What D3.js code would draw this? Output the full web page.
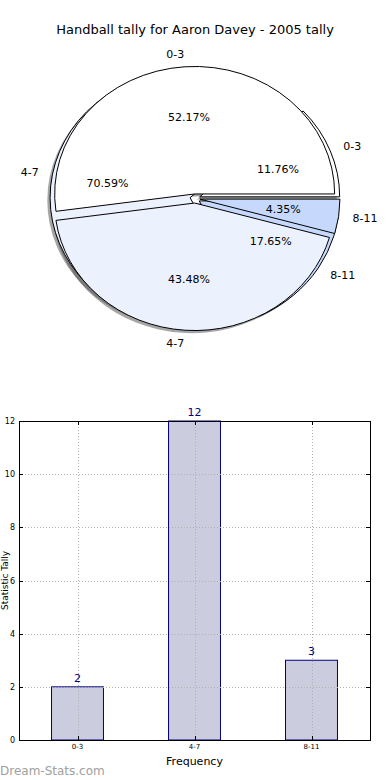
<!DOCTYPE html>
<html>
<head>
<meta charset="utf-8">
<script src="https://cdn.jsdelivr.net/npm/d3@7"></script>
<style>
  html, body { margin: 0; padding: 0; background: #ffffff; }
  svg { display: block; font-family: "DejaVu Sans", sans-serif; }
</style>
</head>
<body>
<svg id="chart" width="390" height="780"></svg>
<script>
// ---------- data ----------
const titleText = "Handball tally for Aaron Davey - 2005 tally";
const categories = ["0-3", "4-7", "8-11"];
const tallyOuter = [2, 12, 3];     // drawn first (17 total)
const tallyInner = [12, 10, 1];    // drawn on top (23 total)
const barValues = [2, 12, 3];
const yTicks = [0, 2, 4, 6, 8, 10, 12];
const sliceColors = ["#ffffff", "#ebf1fd", "#c6d9fd"];

const svg = d3.select("#chart");

// ---------- title ----------
svg.append("text")
  .attr("x", 195).attr("y", 34)
  .attr("text-anchor", "middle")
  .attr("font-size", 13)
  .attr("fill", "#000")
  .text(titleText);

// ---------- pie ----------
const cx = 195, cy = 198.5, rx = 140, ry = 127.5, k = ry / rx, explode = 5;
const pie = d3.pie().sort(null).startAngle(Math.PI / 2).endAngle(Math.PI / 2 - 2 * Math.PI);
const arc = d3.arc().innerRadius(0).outerRadius(rx);

function build(values) {
  const total = d3.sum(values);
  return pie(values).map((d, i) => {
    const mid = (d.startAngle + d.endAngle) / 2;
    const ox = explode * Math.sin(mid), oy = -explode * Math.cos(mid) * k;
    return { d, i, mid, ox, oy, pct: (values[i] / total * 100).toFixed(2) + "%" };
  });
}
const wedgesA = build(tallyOuter);
const wedgesB = build(tallyInner);
const allWedges = wedgesA.concat(wedgesB);

const pieG = svg.append("g");
// shadows
pieG.selectAll("path.shadow").data(allWedges).enter().append("path")
  .attr("class", "shadow")
  .attr("transform", w => `translate(${cx + w.ox - 2.8},${cy + w.oy + 2.6}) scale(1,${k})`)
  .attr("d", w => arc(w.d))
  .attr("fill", "rgba(77,77,77,0.5)");

function drawWedges(ws, cls) {
  pieG.selectAll("path." + cls).data(ws).enter().append("path")
    .attr("class", cls)
    .attr("transform", w => `translate(${cx + w.ox},${cy + w.oy}) scale(1,${k})`)
    .attr("d", w => arc(w.d))
    .attr("fill", w => sliceColors[w.i])
    .attr("stroke", "#000")
    .attr("stroke-width", 1)
    .attr("vector-effect", "non-scaling-stroke")
    .attr("stroke-linejoin", "round");
}
drawWedges(wedgesA, "wa");
drawWedges(wedgesB, "wb");

function labels(ws) {
  ws.forEach(w => {
    const sx = Math.sin(w.mid), sy = -Math.cos(w.mid) * k;
    const lx = cx + w.ox + 1.1 * rx * sx, ly = cy + w.oy + 1.1 * rx * sy;
    pieG.append("text")
      .attr("x", lx).attr("y", ly)
      .attr("dy", "0.35em")
      .attr("text-anchor", sx > 0 ? "start" : "end")
      .attr("font-size", 11)
      .text(categories[w.i]);
    const px = cx + w.ox + 0.6 * rx * sx, py = cy + w.oy + 0.6 * rx * sy;
    pieG.append("text")
      .attr("x", px).attr("y", py)
      .attr("dy", "0.35em")
      .attr("text-anchor", "middle")
      .attr("font-size", 11)
      .text(w.pct);
  });
}
labels(wedgesA);
labels(wedgesB);

// ---------- bar chart ----------
const plotLeft = 19, plotRight = 370, plotTop = 421, plotBottom = 740;
const x = d3.scaleBand().domain(categories).range([plotLeft, plotRight]).paddingInner(0.556).paddingOuter(0.278);
const y = d3.scaleLinear().domain([0, 12]).range([plotBottom, plotTop]);
const barG = svg.append("g");

barG.selectAll("rect.bar").data(barValues).enter().append("rect")
  .attr("class", "bar")
  .attr("x", (v, i) => x(categories[i]))
  .attr("y", v => y(v))
  .attr("width", x.bandwidth())
  .attr("height", v => y(0) - y(v))
  .attr("fill", "#ccccdf")
  .attr("stroke", "#000080")
  .attr("stroke-width", 1);

// grid (on top of bars)
const gridG = barG.append("g").attr("stroke", "#b0b0b0").attr("stroke-width", 1).attr("stroke-dasharray", "1,2");
yTicks.forEach(t => {
  gridG.append("line").attr("x1", plotLeft).attr("x2", plotRight).attr("y1", Math.round(y(t)) + 0.5).attr("y2", Math.round(y(t)) + 0.5);
});
categories.forEach(c => {
  const xc = Math.round(x(c) + x.bandwidth() / 2) + 0.5;
  gridG.append("line").attr("x1", xc).attr("x2", xc).attr("y1", plotTop).attr("y2", plotBottom);
});

// axes box
barG.append("rect")
  .attr("x", plotLeft + 0.5).attr("y", plotTop + 0.5)
  .attr("width", plotRight - plotLeft).attr("height", plotBottom - plotTop)
  .attr("fill", "none").attr("stroke", "#000").attr("stroke-width", 1);

// y axis ticks and labels
const yAxis = d3.axisLeft(y).tickValues(yTicks).tickSize(0).tickPadding(4);
const yAx = barG.append("g").attr("transform", `translate(${plotLeft},0)`).call(yAxis);
yAx.select(".domain").remove();
yAx.selectAll("text").attr("font-size", 8).attr("font-family", "DejaVu Sans, sans-serif").attr("fill", "#000");
yTicks.forEach(t => {
  const yy = Math.round(y(t)) + 0.5;
  barG.append("line").attr("x1", plotLeft).attr("x2", plotLeft + 4).attr("y1", yy).attr("y2", yy).attr("stroke", "#000");
  barG.append("line").attr("x1", plotRight - 4).attr("x2", plotRight).attr("y1", yy).attr("y2", yy).attr("stroke", "#000");
});

// x axis labels
const xAxis = d3.axisBottom(x).tickSize(0).tickPadding(4);
const xAx = barG.append("g").attr("transform", `translate(0,${plotBottom})`).call(xAxis);
xAx.select(".domain").remove();
xAx.selectAll("text").attr("font-size", 7).attr("font-family", "DejaVu Sans, sans-serif").attr("fill", "#000");
categories.forEach(c => {
  const xc = Math.round(x(c) + x.bandwidth() / 2) + 0.5;
  barG.append("line").attr("x1", xc).attr("x2", xc).attr("y1", plotBottom - 4).attr("y2", plotBottom).attr("stroke", "#000");
  barG.append("line").attr("x1", xc).attr("x2", xc).attr("y1", plotTop).attr("y2", plotTop + 4).attr("stroke", "#000");
});

// value labels
barG.selectAll("text.val").data(barValues).enter().append("text")
  .attr("class", "val")
  .attr("x", (v, i) => x(categories[i]) + x.bandwidth() / 2)
  .attr("y", v => y(v) - 5)
  .attr("text-anchor", "middle")
  .attr("font-size", 11)
  .attr("fill", "#000080")
  .text(v => v);

// axis titles
svg.append("text")
  .attr("x", (plotLeft + plotRight) / 2).attr("y", 765)
  .attr("text-anchor", "middle")
  .attr("font-size", 11)
  .text("Frequency");

svg.append("text")
  .attr("transform", `translate(8,${(plotTop + plotBottom) / 2}) rotate(-90)`)
  .attr("text-anchor", "middle")
  .attr("font-size", 9)
  .text("Statistic Tally");

// watermark
svg.append("text")
  .attr("x", 0).attr("y", 775)
  .attr("font-size", 12)
  .attr("fill", "#a0a0a0")
  .text("Dream-Stats.com");
</script>
</body>
</html>
